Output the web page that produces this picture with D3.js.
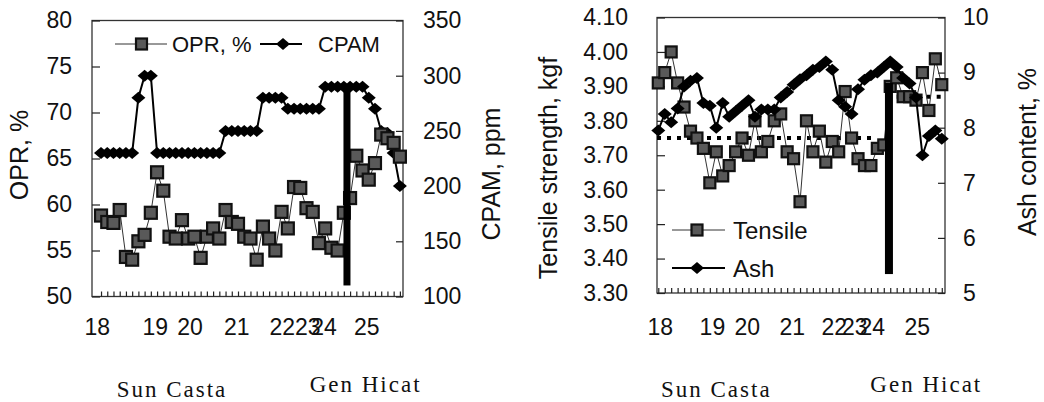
<!DOCTYPE html>
<html>
<head>
<meta charset="utf-8">
<script src="https://cdn.jsdelivr.net/npm/d3@7"></script>
<style>
  body { margin: 0; background: #fff; }
  text { font-family: "Liberation Sans", Arial, sans-serif; fill: #111; }
  .serif { font-family: "Liberation Serif", "Times New Roman", serif; }
</style>
</head>
<body>
<div id="chart"></div>
<script>
const width = 1044;
const height = 402;

// ---- left panel: OPR (%) and CPAM (ppm) per sample ----
const oprValues = [58.8, 58.1, 58.0, 59.4, 54.3, 54.0, 56.0, 56.7, 59.1, 63.5,
  61.5, 56.5, 56.3, 58.3, 56.3, 56.5, 54.2, 56.5, 57.4, 56.3,
  59.4, 58.1, 57.9, 56.5, 56.3, 54.0, 57.6, 56.3, 55.0, 59.2,
  57.4, 61.9, 61.8, 59.6, 59.2, 55.8, 57.4, 55.3, 55.0, 59.1,
  60.7, 65.3, 63.7, 62.7, 64.5, 67.6, 67.2, 66.7, 65.2];
const cpamValues = [230, 230, 230, 230, 230, 230, 280, 300, 300, 230,
  230, 230, 230, 230, 230, 230, 230, 230, 230, 230,
  250, 250, 250, 250, 250, 250, 280, 280, 280, 280,
  270, 270, 270, 270, 270, 270, 290, 290, 290, 290,
  290, 290, 290, 280, 270, 250, 248, 230, 200];
const leftDayLabels = ["18", "19", "20", "21", "22", "23", "24", "25"];
const leftDayPos = [-0.6, 8.7, 14.3, 21.8, 29.1, 33.2, 35.8, 42.7];
const leftGroupPos = [11.4, 42.5];
const leftSwitch = { at: 39.5, from: 51.2, to: 73 };   // OPR units

// ---- right panel: tensile strength (kgf) and ash content (%) ----
const tensileValues = [3.91, 3.94, 4.00, 3.91, 3.84, 3.77, 3.75, 3.72, 3.62, 3.71,
  3.64, 3.67, 3.71, 3.75, 3.70, 3.80, 3.71, 3.74, 3.80, 3.82,
  3.71, 3.69, 3.565, 3.80, 3.71, 3.77, 3.68, 3.74, 3.71, 3.885,
  3.75, 3.69, 3.67, 3.67, 3.72, 3.73, 3.90, 3.925, 3.87, 3.87,
  3.86, 3.94, 3.83, 3.98, 3.905];
const ashValues = [7.95, 8.25, 8.1, 8.35, 8.75, 8.85, 8.9, 8.45, 8.4, 8.0,
  8.45, 8.2, 8.3, 8.4, 8.5, 8.2, 8.33, 8.33, 8.33, 8.55,
  8.65, 8.78, 8.88, 8.95, 9.05, 9.1, 9.2, 9.05, 8.5, 8.38,
  8.25, 8.7, 8.87, 8.95, 9.0, 9.1, 9.2, 9.1, 8.9, 8.8,
  8.55, 7.5, 7.85, 7.95, 7.8];
const rightDayLabels = ["18", "19", "20", "21", "22", "23", "24", "25"];
const rightDayPos = [0.3, 8.4, 13.8, 20.8, 27.3, 30.5, 33.2, 40.2];
const rightGroupPos = [9.0, 41.6];
const rightSwitch = { at: 35.8, from: 3.355, to: 3.91 };  // tensile units
const tensileTargets = [
  { from: -0.2, to: 33.5, value: 3.75 },
  { from: 37, to: 44.5, value: 3.87 }
];

const groupNames = ["Sun Casta", "Gen Hicat"];

const svg = d3.select("#chart")
  .append("svg")
  .attr("width", width)
  .attr("height", height);

svg.append("rect").attr("width", width).attr("height", height).attr("fill", "#fff");

const diamond = "M0,-6L7,0L0,6L-7,0Z";
const sqFill = "#595959";

function drawPanel(p) {
  const g = svg.append("g");
  const x = d3.scaleLinear().domain(p.xDomain).range([p.left, p.right]);
  const yL = d3.scaleLinear().domain(p.yLeft).range([p.bottom, p.top]);
  const yR = d3.scaleLinear().domain(p.yRight).range([p.bottom, p.top]);

  // frame
  g.append("rect")
    .attr("x", p.left).attr("y", p.top)
    .attr("width", p.right - p.left).attr("height", p.bottom - p.top)
    .attr("fill", "none").attr("stroke", "#333").attr("stroke-width", 1.3);

  // axes (ticks point inward)
  const axL = g.append("g").attr("transform", `translate(${p.left},0)`)
    .call(d3.axisLeft(yL).tickValues(p.leftTicks).tickFormat(p.leftFmt)
      .tickSizeInner(-8).tickSizeOuter(0).tickPadding(p.leftPad));
  const axR = g.append("g").attr("transform", `translate(${p.right},0)`)
    .call(d3.axisRight(yR).tickValues(p.rightTicks).tickFormat(p.rightFmt)
      .tickSizeInner(-7).tickSizeOuter(0).tickPadding(p.rightPad));
  const axB = g.append("g").attr("transform", `translate(0,${p.bottom})`)
    .call(d3.axisBottom(x).tickValues(d3.range(p.n)).tickFormat("")
      .tickSizeInner(-5).tickSizeOuter(0));
  [axL, axR, axB].forEach(a => {
    a.select(".domain").remove();
    a.selectAll(".tick line").attr("stroke", "#222").attr("stroke-width", 1.2);
    a.selectAll(".tick text").attr("font-size", 23)
      .attr("font-family", "Liberation Sans, Arial, sans-serif").attr("fill", "#111");
  });

  // day labels
  g.selectAll(".day").data(p.dayLabels).enter().append("text")
    .attr("x", (d, i) => x(p.dayPos[i]))
    .attr("y", 335)
    .attr("text-anchor", "middle")
    .attr("font-size", 23)
    .text(d => d);

  // group labels
  g.selectAll(".grp").data(groupNames).enter().append("text")
    .attr("class", "serif")
    .attr("x", (d, i) => x(p.groupPos[i]))
    .attr("y", (d, i) => i === 0 ? 397 : 392)
    .attr("text-anchor", "middle")
    .attr("font-size", 23)
    .attr("letter-spacing", 2)
    .text(d => d);

  // axis titles
  g.append("text")
    .attr("transform", `translate(${p.leftTitleX},${p.leftTitleY}) rotate(-90)`)
    .attr("text-anchor", "middle").attr("font-size", 25).text(p.leftTitle);
  g.append("text")
    .attr("transform", `translate(${p.rightTitleX},${p.rightTitleY}) rotate(-90)`)
    .attr("text-anchor", "middle").attr("font-size", 25).text(p.rightTitle);

  return { g, x, yL, yR };
}

function squareSeries(g, x, y, values, r) {
  g.append("path").datum(values)
    .attr("fill", "none").attr("stroke", "#333").attr("stroke-width", 1)
    .attr("d", d3.line().x((d, i) => x(i)).y(d => y(d)));
  g.selectAll(null).data(values).enter().append("rect")
    .attr("x", (d, i) => x(i) - r).attr("y", d => y(d) - r)
    .attr("width", 2 * r).attr("height", 2 * r)
    .attr("fill", sqFill).attr("stroke", "#111").attr("stroke-width", 2.2);
}

function diamondSeries(g, x, y, values) {
  g.append("path").datum(values)
    .attr("fill", "none").attr("stroke", "#000").attr("stroke-width", 2)
    .attr("d", d3.line().x((d, i) => x(i)).y(d => y(d)));
  g.selectAll(null).data(values).enter().append("path")
    .attr("d", diamond)
    .attr("transform", (d, i) => `translate(${x(i)},${y(d)})`)
    .attr("fill", "#000");
}

// ---------- left panel ----------
const L = drawPanel({
  left: 92, right: 403, top: 20.5, bottom: 296.5,
  xDomain: [-1.45, 48.5], n: oprValues.length,
  yLeft: [50, 80], yRight: [100, 350],
  leftTicks: d3.range(50, 81, 5), rightTicks: d3.range(100, 351, 50),
  leftFmt: d3.format("d"), rightFmt: d3.format("d"),
  leftPad: 20, rightPad: 20,
  dayLabels: leftDayLabels, dayPos: leftDayPos, groupPos: leftGroupPos,
  leftTitle: "OPR, %", leftTitleX: 28, leftTitleY: 155,
  rightTitle: "CPAM, ppm", rightTitleX: 500, rightTitleY: 174
});
diamondSeries(L.g, L.x, L.yR, cpamValues);
squareSeries(L.g, L.x, L.yL, oprValues, 6);
L.g.append("rect")
  .attr("x", L.x(leftSwitch.at) - 3.5).attr("y", L.yL(leftSwitch.to))
  .attr("width", 7).attr("height", L.yL(leftSwitch.from) - L.yL(leftSwitch.to))
  .attr("fill", "#000");

// legend
const legL = L.g.append("g");
legL.append("line").attr("x1", 115).attr("x2", 167).attr("y1", 44).attr("y2", 44)
  .attr("stroke", "#333").attr("stroke-width", 1);
legL.append("rect").attr("x", 136).attr("y", 38.5).attr("width", 11).attr("height", 11)
  .attr("fill", sqFill).attr("stroke", "#111").attr("stroke-width", 2.2);
legL.append("text").attr("x", 172).attr("y", 52).attr("font-size", 22).text("OPR, %");
legL.append("line").attr("x1", 260).attr("x2", 302).attr("y1", 44).attr("y2", 44)
  .attr("stroke", "#000").attr("stroke-width", 2);
legL.append("path").attr("d", diamond).attr("transform", "translate(283,44)").attr("fill", "#000");
legL.append("text").attr("x", 318).attr("y", 52).attr("font-size", 22).text("CPAM");

// ---------- right panel ----------
const R = drawPanel({
  left: 657, right: 945, top: 17.5, bottom: 293,
  xDomain: [-0.2, 44.5], n: tensileValues.length,
  yLeft: [3.3, 4.1], yRight: [5, 10],
  leftTicks: d3.range(0, 9).map(i => 3.3 + i * 0.1), rightTicks: d3.range(5, 11, 1),
  leftFmt: d3.format(".2f"), rightFmt: d3.format("d"),
  leftPad: 29, rightPad: 18,
  dayLabels: rightDayLabels, dayPos: rightDayPos, groupPos: rightGroupPos,
  leftTitle: "Tensile strength, kgf", leftTitleX: 557, leftTitleY: 168,
  rightTitle: "Ash content, %", rightTitleX: 1036, rightTitleY: 152
});
R.g.selectAll(".target").data(tensileTargets).enter().append("line")
  .attr("x1", d => R.x(d.from)).attr("x2", d => R.x(d.to))
  .attr("y1", d => R.yL(d.value)).attr("y2", d => R.yL(d.value))
  .attr("stroke", "#000").attr("stroke-width", 4).attr("stroke-dasharray", "4 6");
squareSeries(R.g, R.x, R.yL, tensileValues, 5.5);
diamondSeries(R.g, R.x, R.yR, ashValues);
R.g.append("rect")
  .attr("x", R.x(rightSwitch.at) - 4).attr("y", R.yL(rightSwitch.to))
  .attr("width", 8).attr("height", R.yL(rightSwitch.from) - R.yL(rightSwitch.to))
  .attr("fill", "#000");

// legend
const legR = R.g.append("g");
legR.append("line").attr("x1", 672).attr("x2", 725).attr("y1", 230).attr("y2", 230)
  .attr("stroke", "#333").attr("stroke-width", 1);
legR.append("rect").attr("x", 691.5).attr("y", 224.5).attr("width", 11).attr("height", 11)
  .attr("fill", sqFill).attr("stroke", "#111").attr("stroke-width", 2.2);
legR.append("text").attr("x", 733).attr("y", 239).attr("font-size", 24).text("Tensile");
legR.append("line").attr("x1", 672).attr("x2", 725).attr("y1", 268).attr("y2", 268)
  .attr("stroke", "#000").attr("stroke-width", 2);
legR.append("path").attr("d", diamond).attr("transform", "translate(697,268)").attr("fill", "#000");
legR.append("text").attr("x", 733).attr("y", 277).attr("font-size", 24).text("Ash");
</script>
</body>
</html>
